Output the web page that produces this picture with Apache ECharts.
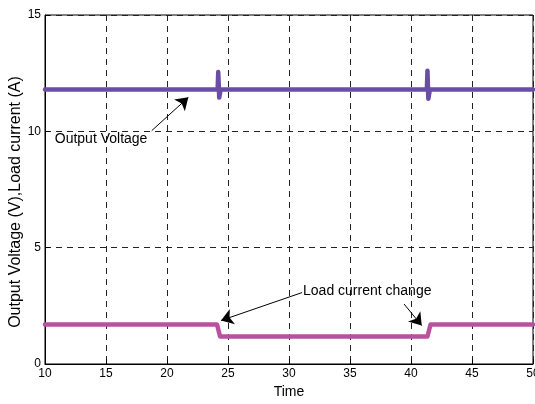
<!DOCTYPE html>
<html>
<head>
<meta charset="utf-8">
<script src="https://cdn.jsdelivr.net/npm/echarts@6/dist/echarts.min.js"></script>
<style>html,body{margin:0;padding:0;background:#fff}#c{width:535px;height:404px}</style>
</head>
<body>
<div id="c"></div>
<script>
// Output voltage trace (time, volts)
const voltageTime = [10, 24.15, 24.2, 24.28, 24.4, 41.3, 41.35, 41.42, 41.55, 50];
const voltageVals = [11.8, 11.8, 12.55, 11.45, 11.8, 11.8, 12.6, 11.4, 11.8, 11.8];
// Load current trace (time, amps)
const currentTime = [10, 24.1, 24.35, 41.35, 41.6, 50];
const currentVals = [1.7, 1.7, 1.18, 1.18, 1.7, 1.7];
// Axis ticks
const xTicks = [10, 15, 20, 25, 30, 35, 40, 45, 50];
const yTicks = [0, 5, 10, 15];
// Titles
const xTitle = 'Time';
const yTitle = 'Output Voltage (V),Load current (A)';
// Annotations: [label, textX, textY]
const annoTexts = [["Output Voltage", 10.8, 9.66], ["Load current change", 31.15, 3.12]];
// Arrows: [fromX, fromY, toX, toY]
const annoArrows = [[18.75, 10.03, 21.75, 11.46], [31.07, 3.07, 24.43, 1.87], [39.43, 2.58, 40.88, 1.65]];

const chart = echarts.init(document.getElementById('c'), null, {renderer: 'canvas'});
const font = 'Liberation Sans, Arial, sans-serif';
const zip = (a, b) => a.map((v, i) => [v, b[i]]);

chart.setOption({
  animation: false,
  backgroundColor: '#fff',
  grid: {left: 45, right: 2, top: 15, bottom: 40, show: true, borderColor: '#000', borderWidth: 1,
    containLabel: false, outerBoundsMode: 'none'},
  graphic: [{
    type: 'text', x: 16, y: 202, rotation: Math.PI / 2,
    style: {text: yTitle, font: '16px "Liberation Sans", Arial, sans-serif', fontFamily: font, fontSize: 16,
      fill: '#000', align: 'center', verticalAlign: 'middle'}
  }],
  xAxis: {
    type: 'value', min: xTicks[0], max: xTicks[xTicks.length - 1], interval: 5,
    name: xTitle, nameLocation: 'middle', nameGap: 15,
    nameTextStyle: {fontFamily: font, fontSize: 14, color: '#000'},
    axisLine: {lineStyle: {color: '#000', width: 1}},
    axisTick: {inside: true, length: 5, lineStyle: {color: '#000'}},
    axisLabel: {fontFamily: font, fontSize: 12, color: '#000', margin: 4, hideOverlap: false},
    splitLine: {show: true, lineStyle: {color: '#222', type: [6, 5], width: 1}}
  },
  yAxis: {
    type: 'value', min: yTicks[0], max: yTicks[yTicks.length - 1], interval: 5,
    axisLine: {lineStyle: {color: '#000', width: 1}},
    axisTick: {inside: true, length: 5, lineStyle: {color: '#000'}},
    axisLabel: {fontFamily: font, fontSize: 12, color: '#000', margin: 4},
    splitLine: {show: true, lineStyle: {color: '#222', type: [6, 5], width: 1}}
  },
  series: [
    {
      type: 'line', data: zip(voltageTime, voltageVals), showSymbol: false, symbol: 'none',
      lineStyle: {color: '#6a4ea5', width: 4.5, cap: 'round', join: 'round'}, z: 3
    },
    {
      type: 'line', data: zip(currentTime, currentVals), showSymbol: false, symbol: 'none',
      lineStyle: {color: '#b8529f', width: 4.5, cap: 'round', join: 'round'}, z: 3,
      markLine: {
        silent: true, symbol: ['none', 'arrow'], symbolSize: 12,
        label: {show: false},
        itemStyle: {color: '#000'},
        lineStyle: {color: '#000', width: 1, type: 'solid'},
        data: annoArrows.map(a => [{coord: [a[0], a[1]]}, {coord: [a[2], a[3]]}])
      },
      markPoint: {
        silent: true, symbol: 'circle', symbolSize: 0,
        label: {show: true, position: 'right', distance: 0, fontFamily: font, fontSize: 14, color: '#000',
          formatter: p => p.name},
        data: annoTexts.map(t => ({name: t[0], coord: [t[1], t[2]]}))
      }
    }
  ]
});
</script>
</body>
</html>
